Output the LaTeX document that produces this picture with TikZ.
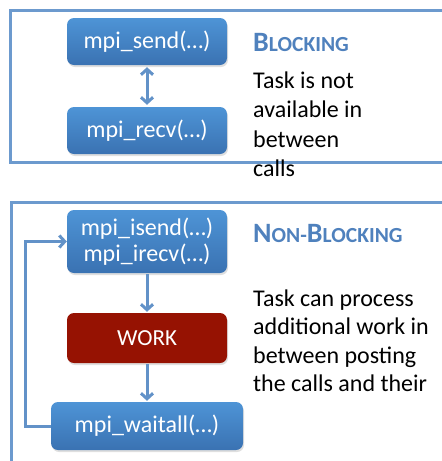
\documentclass[tikz,border=0pt]{standalone}
\usepackage{fontspec}
\setmainfont{Carlito}
\usetikzlibrary{arrows.meta,shadows}
\definecolor{boxtop}{RGB}{78,148,214}
\definecolor{boxbot}{RGB}{58,114,178}
\definecolor{workred}{RGB}{150,18,2}
\definecolor{frameblue}{RGB}{108,154,206}
\definecolor{arrowblue}{RGB}{98,146,200}
\definecolor{headblue}{RGB}{79,129,189}
\begin{document}
\begin{tikzpicture}[x=1pt,y=-1pt,
  callbox/.style={rectangle, rounded corners=7pt, top color=boxtop, bottom color=boxbot,
    text=white, align=center, inner sep=0pt, minimum width=160pt,
    font=\fontsize{24}{26}\selectfont,
    drop shadow={shadow xshift=1pt, shadow yshift=-2pt, opacity=0.25}},
  workbox/.style={callbox, top color=workred, bottom color=workred},
  frame/.style={draw=frameblue, line width=3pt},
  flow/.style={draw=arrowblue, line width=3pt, -{Straight Barb[length=5.5pt,width=12pt]}},
  heading/.style={anchor=west, inner sep=0pt, text=headblue, font=\bfseries},
  body/.style={anchor=north west, inner sep=0pt, align=left}]
\useasboundingbox (0,0) rectangle (442,461);
\clip (0,0) rectangle (442,461);

% blocking panel
\draw[frame] (10,10) rectangle (470,162);
\node[callbox, minimum height=47pt] (send) at (147,41.5) {mpi\_send(…)};
\node[callbox, minimum height=47pt] (recv) at (147,130.5) {mpi\_recv(…)};
\draw[flow, {Straight Barb[length=5.5pt,width=12pt]}-{Straight Barb[length=5.5pt,width=12pt]}]
  ([yshift=-2pt]send.south) -- ([yshift=2pt]recv.north);
\node[heading] (bhead) at (253,42.5)
  {\fontsize{28}{30}\selectfont B\fontsize{21.5}{23}\selectfont LOCKING};
\node[body, font=\fontsize{24}{29.5}\selectfont] (btext) at (253,71.5)
  {Task is not\\available in\\between\\calls};

% non-blocking panel
\draw[frame] (11,202) rectangle (470,480);
\node[callbox, minimum height=63pt, font=\fontsize{24}{26}\selectfont] (isend) at (147,241.5)
  {mpi\_isend(…)\\mpi\_irecv(…)};
\node[workbox, minimum height=50pt, font=\fontsize{23}{25}\selectfont] (work) at (147,338) {WORK};
\node[callbox, minimum width=192pt, minimum height=48pt] (wait) at (147,426) {mpi\_waitall(…)};
\draw[flow] ([yshift=-1pt]isend.south) -- ([yshift=1pt]work.north);
\draw[flow] ([yshift=-1pt]work.south) -- ([yshift=1pt]wait.north);
\draw[flow] (wait.west) -- ++(-25pt,0) |- (isend.west);
\node[heading] (nhead) at (253,233.5)
  {\fontsize{28}{30}\selectfont N\fontsize{21.5}{23}\selectfont ON-\fontsize{28}{30}\selectfont B\fontsize{21.5}{23}\selectfont LOCKING};
\node[body, font=\fontsize{24}{28.5}\selectfont] (ntext) at (253,289.5)
  {Task can process\\additional work in\\between posting\\the calls and their};
\end{tikzpicture}
\end{document}
